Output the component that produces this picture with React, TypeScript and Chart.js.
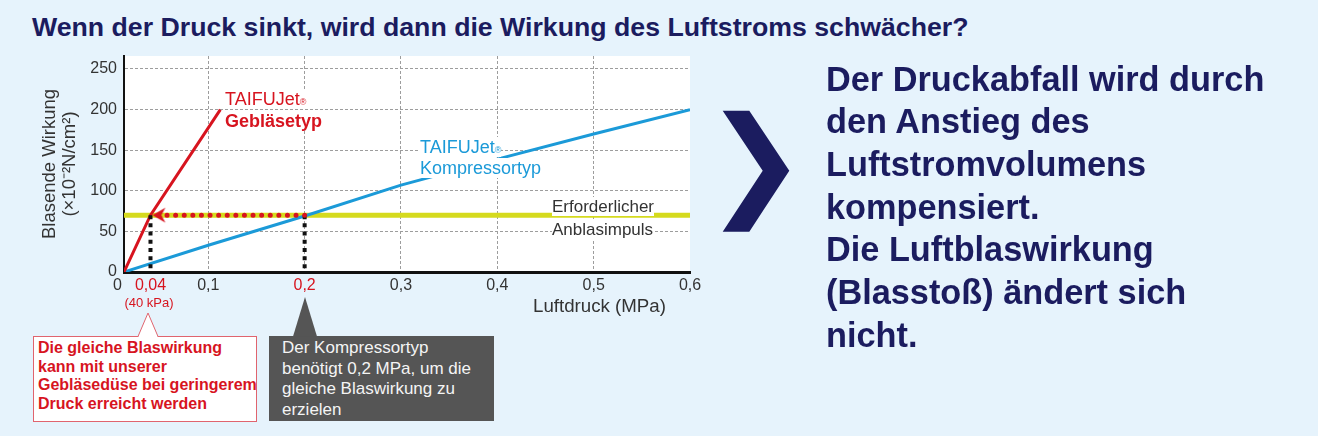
import React, { useEffect, useRef } from "react";
import { Chart, registerables } from "chart.js";

Chart.register(...registerables);

// ---- Data ----
const X_MIN = 0.0125; // the drawn origin of the chart (labelled "0")
const X_MAX = 0.6;
const Y_MAX = 266;

const xTickValues = [X_MIN, 0.04, 0.1, 0.2, 0.3, 0.4, 0.5, 0.6];
const xTickLabels = ["0   ", "0,04", "0,1", "0,2", "0,3", "0,4", "0,5", "0,6"];
const xHighlightTicks = [0.04, 0.2];
const yTickValues = [0, 50, 100, 150, 200, 250];
const yTitle = ["Blasende Wirkung", "(×10⁻²N/cm²)"];

const blowerX = [X_MIN, 0.04, 0.1125];
const blowerY = [0, 70, 200];
const compressorX = [X_MIN, 0.1, 0.2, 0.3, 0.4, 0.5, 0.6];
const compressorY = [0, 33, 69, 107, 139, 170, 200];
const requiredLevel = 70;
const blowerPressure = 0.04;
const compressorPressure = 0.2;
const arrowTipX = 0.042;
const dottedEndX = 0.05;

// ---- Colours ----
const RED = "#d7141f";
const BLUE = "#1b9ad8";
const YELLOW = "#d5da1e";
const NAVY = "#1b1c5f";
const TEXT = "#333333";
const FONT = "'Liberation Sans', Arial, sans-serif";

function makeArrowHead(): HTMLCanvasElement {
  const c = document.createElement("canvas");
  c.width = 28;
  c.height = 18;
  const g = c.getContext("2d")!;
  g.fillStyle = RED;
  g.beginPath();
  g.moveTo(14, 9);
  g.lineTo(27, 1.5);
  g.lineTo(23, 9);
  g.lineTo(27, 16.5);
  g.closePath();
  g.fill();
  return c;
}

const plotBg = {
  id: "plotBg",
  beforeDraw(chart: any) {
    const { ctx, chartArea } = chart;
    const { left, top, right, bottom } = chartArea;
    ctx.save();
    ctx.fillStyle = "#ffffff";
    ctx.fillRect(left, top, right - left, bottom - top);
    ctx.restore();
  },
};

function ChartCanvas() {
  const ref = useRef<HTMLCanvasElement | null>(null);
  useEffect(() => {
    if (!ref.current) return;
    const arrow = makeArrowHead();
    const line = (xs: number[], ys: number[]) => xs.map((x, i) => ({ x, y: ys[i] }));
    const chart = new Chart(ref.current, {
      type: "scatter",
      data: {
        datasets: [
          {
            label: "arrow",
            data: [{ x: arrowTipX, y: requiredLevel }],
            pointStyle: arrow as any,
            pointRadius: 8,
            showLine: false,
            order: 1,
          } as any,
          {
            label: "red dotted",
            data: [
              { x: compressorPressure, y: requiredLevel },
              { x: dottedEndX, y: requiredLevel },
            ],
            showLine: true,
            borderColor: RED,
            borderWidth: 5,
            borderDash: [0, 8.6],
            borderCapStyle: "round",
            pointRadius: 0,
            order: 2,
          },
          {
            label: "black dotted 1",
            data: [
              { x: blowerPressure, y: requiredLevel },
              { x: blowerPressure, y: 0 },
            ],
            showLine: true,
            borderColor: "#111111",
            borderWidth: 4,
            borderDash: [4, 4.2],
            pointRadius: 0,
            order: 3,
          },
          {
            label: "black dotted 2",
            data: [
              { x: compressorPressure, y: requiredLevel },
              { x: compressorPressure, y: 0 },
            ],
            showLine: true,
            borderColor: "#111111",
            borderWidth: 4,
            borderDash: [4, 4.2],
            pointRadius: 0,
            order: 3,
          },
          {
            label: "TAIFUJet Gebläsetyp",
            data: line(blowerX, blowerY),
            showLine: true,
            borderColor: RED,
            borderWidth: 3,
            pointRadius: 0,
            tension: 0,
            order: 4,
          },
          {
            label: "TAIFUJet Kompressortyp",
            data: line(compressorX, compressorY),
            showLine: true,
            borderColor: BLUE,
            borderWidth: 3,
            pointRadius: 0,
            tension: 0,
            order: 5,
          },
          {
            label: "Erforderlicher Anblasimpuls",
            data: [
              { x: X_MIN, y: requiredLevel },
              { x: X_MAX, y: requiredLevel },
            ],
            showLine: true,
            borderColor: YELLOW,
            borderWidth: 5,
            pointRadius: 0,
            order: 10,
          },
        ],
      },
      options: {
        animation: false,
        responsive: false,
        layout: { padding: { top: 56, right: 30, bottom: 18, left: 0 } },
        plugins: { legend: { display: false }, tooltip: { enabled: false } },
        scales: {
          x: {
            type: "linear",
            min: X_MIN,
            max: X_MAX,
            afterBuildTicks: (s: any) => {
              s.ticks = xTickValues.map((v) => ({ value: v }));
            },
            afterFit: (s: any) => {
              s.height = 40;
            },
            grid: {
              drawTicks: false,
              lineWidth: 1,
              color: (c: any) => {
                const v = c.tick ? c.tick.value : null;
                if (v === null || v === X_MIN || v === 0.04 || v === X_MAX) return "rgba(0,0,0,0)";
                return "#9d9d9d";
              },
            },
            border: { display: true, color: "#111111", width: 3, dash: [3, 2] },
            ticks: {
              autoSkip: false,
              maxRotation: 0,
              minRotation: 0,
              padding: 4,
              font: { family: FONT, size: 16 },
              color: (c: any) => (c.tick && xHighlightTicks.includes(c.tick.value) ? RED : TEXT),
              callback: (value: any) => {
                const i = xTickValues.indexOf(Number(value));
                return i >= 0 ? xTickLabels[i] : "";
              },
            },
          },
          y: {
            type: "linear",
            min: 0,
            max: Y_MAX,
            afterBuildTicks: (s: any) => {
              s.ticks = yTickValues.map((v) => ({ value: v }));
            },
            afterFit: (s: any) => {
              s.width = 124;
            },
            grid: {
              drawTicks: false,
              lineWidth: 1,
              color: (c: any) => (c.tick && c.tick.value === 0 ? "rgba(0,0,0,0)" : "#9d9d9d"),
            },
            border: { display: true, color: "#111111", width: 2, dash: [3, 2] },
            ticks: {
              padding: 7,
              font: { family: FONT, size: 16 },
              color: TEXT,
              callback: (value: any) => String(value),
            },
            title: {
              display: true,
              text: yTitle,
              color: TEXT,
              font: { family: FONT, size: 18.5, lineHeight: 1.08 },
              padding: { top: 40, bottom: 0 },
            },
          },
        },
      },
      plugins: [plotBg],
    } as any);
    return () => chart.destroy();
  }, []);
  return (
    <canvas
      ref={ref}
      width={720}
      height={330}
      style={{ position: "absolute", left: 0, top: 0, width: 720, height: 330 }}
    />
  );
}

const abs = (left: number, top: number, extra: React.CSSProperties = {}): React.CSSProperties => ({
  position: "absolute",
  left,
  top,
  whiteSpace: "nowrap",
  ...extra,
});

export default function App() {
  return (
    <div
      style={{
        position: "fixed",
        left: 0,
        top: 0,
        width: 1318,
        height: 436,
        background: "#e6f3fc",
        fontFamily: FONT,
        overflow: "hidden",
      }}
    >
      <div style={abs(32, 14, { fontSize: 26.7, lineHeight: "26.7px", fontWeight: 700, color: NAVY })}>
        Wenn der Druck sinkt, wird dann die Wirkung des Luftstroms schwächer?
      </div>

      <ChartCanvas />

      {/* in-chart labels */}
      <div style={abs(225, 90, { fontSize: 18, lineHeight: "18px", color: RED })}>
        <span style={{ background: "#fff" }}>
          TAIFUJet<span style={{ fontSize: 9 }}>®</span>
        </span>
      </div>
      <div style={abs(225, 111.7, { fontSize: 18, lineHeight: "18px", color: RED, fontWeight: 700 })}>
        <span style={{ background: "#fff" }}>Gebläsetyp</span>
      </div>
      <div style={abs(420, 137.7, { fontSize: 18, lineHeight: "18px", color: BLUE })}>
        <span style={{ background: "#fff" }}>
          TAIFUJet<span style={{ fontSize: 9 }}>®</span>
        </span>
      </div>
      <div style={abs(420, 159, { fontSize: 18, lineHeight: "18px", color: BLUE })}>
        <span style={{ background: "#fff" }}>Kompressortyp</span>
      </div>
      <div style={abs(552, 198.2, { fontSize: 17, lineHeight: "17px", color: TEXT })}>
        <span style={{ background: "#fff" }}>Erforderlicher</span>
      </div>
      <div style={abs(552, 220.5, { fontSize: 17, lineHeight: "17px", color: TEXT })}>
        <span style={{ background: "#fff" }}>Anblasimpuls</span>
      </div>

      <div style={abs(109, 296, { width: 80, textAlign: "center", fontSize: 13, lineHeight: "13px", color: RED })}>
        (40 kPa)
      </div>
      <div style={abs(533, 297, { fontSize: 18.7, lineHeight: "18.7px", color: TEXT })}>Luftdruck (MPa)</div>

      {/* callouts */}
      <div
        style={abs(33, 336, {
          width: 224,
          height: 86,
          boxSizing: "border-box",
          border: "1px solid #e0646e",
          background: "#ffffff",
          padding: "2px 0 0 4px",
          fontSize: 16,
          lineHeight: "18.5px",
          fontWeight: 700,
          color: RED,
        })}
      >
        Die gleiche Blaswirkung
        <br />
        kann mit unserer
        <br />
        Gebläsedüse bei geringerem
        <br />
        Druck erreicht werden
      </div>
      <div
        style={abs(269, 336, {
          width: 225,
          height: 85,
          boxSizing: "border-box",
          background: "#555555",
          padding: "2px 0 0 13px",
          fontSize: 17,
          lineHeight: "20.5px",
          color: "#f4f4f4",
        })}
      >
        Der Kompressortyp
        <br />
        benötigt 0,2 MPa, um die
        <br />
        gleiche Blaswirkung zu
        <br />
        erzielen
      </div>

      <svg
        width={1318}
        height={436}
        style={{ position: "absolute", left: 0, top: 0, pointerEvents: "none" }}
      >
        <polygon points="138,337.5 148,313 158,337.5" fill="#ffffff" />
        <polyline points="138,336.5 148,313 158,336.5" fill="none" stroke="#e0646e" strokeWidth={1} />
        <polygon points="293,336.5 305,297 317,336.5" fill="#555555" />
        <polygon
          points="722.7,110.7 749.3,110.7 789.3,170.7 749.3,231.7 722.7,231.7 762.7,170.7"
          fill={NAVY}
        />
      </svg>

      <div style={abs(826, 57.6, { fontSize: 34.3, lineHeight: "42.7px", fontWeight: 700, color: NAVY })}>
        Der Druckabfall wird durch
        <br />
        den Anstieg des
        <br />
        Luftstromvolumens
        <br />
        kompensiert.
        <br />
        Die Luftblaswirkung
        <br />
        (Blasstoß) ändert sich
        <br />
        nicht.
      </div>
    </div>
  );
}
